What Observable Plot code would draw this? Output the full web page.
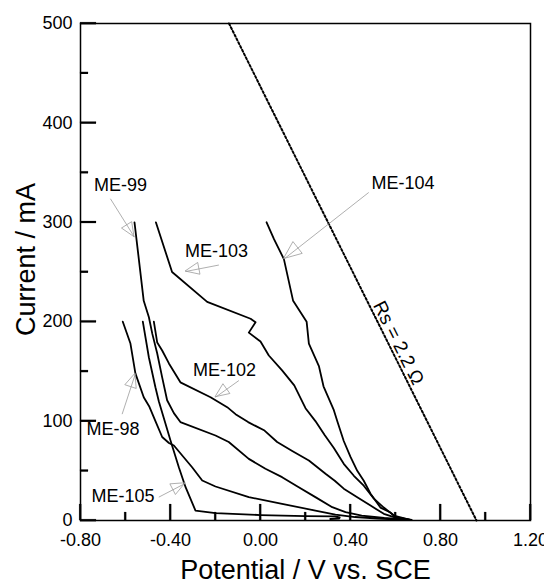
<!DOCTYPE html>
<html>
<head>
<meta charset="utf-8">
<script src="https://cdn.jsdelivr.net/npm/d3@7"></script>
<script src="https://cdn.jsdelivr.net/npm/@observablehq/plot@0.6"></script>
<style>
  html, body { margin: 0; padding: 0; background: white; }
  #chart { width: 544px; height: 583px; }
</style>
</head>
<body>
<div id="chart"></div>
<script>
// ---- Data ----
const me104V = [0.027, 0.06, 0.104, 0.145, 0.205, 0.215, 0.26, 0.28, 0.326, 0.341, 0.37, 0.40, 0.43, 0.459, 0.489, 0.533, 0.578, 0.60, 0.672];
const me104I = [300, 283, 263, 221, 200, 178, 155, 135, 111, 100, 80, 64, 50, 40, 27, 13, 8, 3.5, 0.5];

const me103V = [-0.465, -0.393, -0.237, -0.044, -0.022, -0.052, 0.0, 0.037, 0.096, 0.15, 0.2, 0.244, 0.285, 0.326, 0.37, 0.415, 0.459, 0.504, 0.548, 0.593, 0.665];
const me103I = [300, 250, 220, 203, 199.5, 189, 180, 166, 151, 136, 113, 100, 86, 73, 57, 45, 35, 22, 13, 5, 0.6];

const me102V = [-0.474, -0.459, -0.437, -0.407, -0.356, -0.222, -0.148, -0.111, -0.055, 0.018, 0.074, 0.141, 0.215, 0.289, 0.33, 0.37, 0.43, 0.489, 0.548, 0.593, 0.665];
const me102I = [200, 179, 171, 158, 139, 124, 114, 107, 99, 90.5, 79, 70, 60.4, 47, 40, 32, 23.5, 15, 6.7, 3.3, 0.6];

const me99V = [-0.56, -0.519, -0.496, -0.481, -0.459, -0.437, -0.415, -0.385, -0.356, -0.2, -0.141, -0.052, 0.022, 0.096, 0.17, 0.244, 0.319, 0.378, 0.45, 0.55, 0.66];
const me99I = [300, 221, 204.5, 188, 168, 144, 121, 108, 99, 85.5, 79, 62, 52, 43.6, 33.5, 23.5, 13.4, 8.4, 5, 2.5, 0.5];

const me98V = [-0.612, -0.578, -0.556, -0.519, -0.495, -0.467, -0.437, -0.407, -0.385, -0.304, -0.259, -0.2, -0.052, 0.096, 0.244, 0.333, 0.42, 0.52, 0.62, 0.66];
const me98I = [200, 178, 148, 124, 115, 100, 84, 78, 75.5, 53.6, 40.2, 34.2, 23.5, 16.8, 10, 6, 3.5, 2, 1, 0.4];

const me105V = [-0.523, -0.496, -0.467, -0.452, -0.4, -0.363, -0.333, -0.289, -0.2, 0.0, 0.2, 0.33, 0.352, 0.35, 0.31];
const me105I = [200, 164, 134, 120, 80.5, 53.6, 33.5, 10, 7.5, 5.5, 4.5, 4.2, 3.2, 2, 1.5];

// Rs = 2.2 ohm line (end points)
const rsV = [-0.14, 0.96];
const rsI = [500, 0];

// Annotation labels and arrows
const labelText = ["ME-99", "ME-103", "ME-104", "ME-102", "ME-98", "ME-105"];
const labelV = [-0.622, -0.196, 0.633, -0.16, -0.656, -0.611];
const labelI = [337, 271, 339.5, 151, 92, 24.6];
const arrowTailV = [-0.667, -0.185, 0.481, -0.096, -0.615, -0.452];
const arrowTailI = [323.7, 257, 330, 140.8, 107, 23.5];
const arrowTipV = [-0.56, -0.333, 0.104, -0.2, -0.556, -0.333];
const arrowTipI = [285, 250.5, 263, 124, 147.6, 37.5];

// Axis ticks
const xMajor = [-0.8, -0.4, 0, 0.4, 0.8, 1.2];
const xMinor = [-0.6, -0.2, 0.2, 0.6, 1.0];
const yMajor = [0, 100, 200, 300, 400, 500];
const yMinor = [50, 150, 250, 350, 450];

const rsLabel = "Rs = 2.2 \u03A9";
const rsLabelV = [0.613];
const rsLabelI = [178.6];

// ---- Build tables ----
const curves = [
  {name: "ME-104", V: me104V, I: me104I},
  {name: "ME-103", V: me103V, I: me103I},
  {name: "ME-102", V: me102V, I: me102I},
  {name: "ME-99", V: me99V, I: me99I},
  {name: "ME-98", V: me98V, I: me98I},
  {name: "ME-105", V: me105V, I: me105I}
];
const rows = curves.flatMap(c => c.V.map((v, i) => ({series: c.name, V: v, I: c.I[i]})));
const rsRows = rsV.map((v, i) => ({V: v, I: rsI[i]}));
const labels = labelText.map((t, i) => ({text: t, V: labelV[i], I: labelI[i]}));
const arrows = labelText.map((t, i) => ({x1: arrowTailV[i], y1: arrowTailI[i], x2: arrowTipV[i], y2: arrowTipI[i], big: t === "ME-104"}));

const xTickRows = [...xMajor.map(v => ({v, len: 16})), ...xMinor.map(v => ({v, len: 8}))];
const yTickRows = [...yMajor.map(v => ({v, len: 16})), ...yMinor.map(v => ({v, len: 8}))];

const fmtX = d => d.toFixed(2);
const font = "'Liberation Sans', Arial, sans-serif";

// Inward ticks positioned with the plot's scales
function tickMarks(index, scales) {
  const g = d3.create("svg:g");
  const x = scales.x, y = scales.y;
  const xLeft = x(xMajor[0]), yBottom = y(yMajor[0]);
  const hw = 0.8;
  for (const t of xTickRows) {
    const cx = x(t.v);
    g.append("path")
      .attr("d", `M${cx - hw},${yBottom}L${cx + hw},${yBottom}L${cx + hw},${yBottom - t.len}L${cx - hw},${yBottom - t.len}Z`)
      .attr("fill", "black").attr("stroke", "black").attr("stroke-width", 0.2);
  }
  for (const t of yTickRows) {
    const cy = y(t.v);
    g.append("path")
      .attr("d", `M${xLeft},${cy - hw}L${xLeft + t.len},${cy - hw}L${xLeft + t.len},${cy + hw}L${xLeft},${cy + hw}Z`)
      .attr("fill", "black").attr("stroke", "black").attr("stroke-width", 0.2);
  }
  return g.node();
}

// Hollow triangular arrow heads drawn with the plot's scales
function arrowHeads(index, scales) {
  const g = d3.create("svg:g");
  for (const d of arrows) {
    const x1 = scales.x(d.x1), y1 = scales.y(d.y1), x2 = scales.x(d.x2), y2 = scales.y(d.y2);
    const a = Math.atan2(y2 - y1, x2 - x1);
    const L = d.big ? 18 : 14, Wd = d.big ? 7.5 : 6;
    const bx = x2 - L * Math.cos(a), by = y2 - L * Math.sin(a);
    const px = -Math.sin(a) * Wd, py = Math.cos(a) * Wd;
    g.append("path")
      .attr("d", `M${x2},${y2}L${bx + px},${by + py}L${bx - px},${by - py}Z`)
      .attr("fill", "none")
      .attr("stroke", "#9a9a9a")
      .attr("stroke-width", 0.8);
  }
  return g.node();
}

const chart = Plot.plot({
  width: 544,
  height: 583,
  marginLeft: 80,
  marginRight: 14,
  marginTop: 23,
  marginBottom: 63,
  x: {domain: [-0.8, 1.2], axis: null},
  y: {domain: [0, 500], axis: null},
  style: {fontFamily: font, background: "white", color: "black", overflow: "visible"},
  marks: [
    // Plot's own axis marks: inward ticks (negative tick size), no text
    Plot.axisX(xMajor, {anchor: "bottom", tickSize: -16, tickFormat: () => "", label: null, stroke: "black", strokeWidth: 1.6}),
    Plot.axisX(xMinor, {anchor: "bottom", tickSize: -8, tickFormat: () => "", label: null, stroke: "black", strokeWidth: 1.6}),
    Plot.axisY(yMajor, {anchor: "left", tickSize: -16, tickFormat: () => "", label: null, stroke: "black", strokeWidth: 1.6}),
    Plot.axisY(yMinor, {anchor: "left", tickSize: -8, tickFormat: () => "", label: null, stroke: "black", strokeWidth: 1.6}),
    // tick labels
    Plot.text(xMajor, {x: d => d, frameAnchor: "bottom", lineAnchor: "top", dy: 13, text: fmtX, fontSize: 18, fill: "black"}),
    Plot.text(yMajor, {y: d => d, frameAnchor: "left", textAnchor: "end", lineAnchor: "middle", dx: -8, text: d => String(d), fontSize: 18, fill: "black"}),
    // axis titles
    Plot.text(["Potential / V vs. SCE"], {frameAnchor: "bottom", textAnchor: "middle", lineAnchor: "middle", dy: 49.5, text: d => d, fontSize: 27, fill: "black"}),
    Plot.text(["Current / mA"], {frameAnchor: "left", textAnchor: "middle", lineAnchor: "middle", rotate: -90, dx: -54.6, dy: -12.5, text: d => d, fontSize: 27, fill: "black"}),
    // Rs line
    Plot.line(rsRows, {x: "V", y: "I", stroke: "black", strokeWidth: 2, strokeDasharray: "2,2.2"}),
    Plot.text(rsLabelV, {x: d => d, y: (d, i) => rsLabelI[i], text: () => rsLabel, rotate: 63.5, fontSize: 19, fill: "black"}),
    // curves
    Plot.line(rows, {x: "V", y: "I", z: "series", stroke: "black", strokeWidth: 1.8, strokeLinejoin: "round"}),
    // annotation arrows
    Plot.link(arrows, {x1: "x1", y1: "y1", x2: "x2", y2: "y2", stroke: "#9a9a9a", strokeWidth: 0.8}),
    arrowHeads,
    Plot.text(labels, {x: "V", y: "I", text: "text", fontSize: 18, fill: "black"}),
    Plot.frame({stroke: "black", strokeWidth: 1.5}),
    tickMarks
  ]
});
document.getElementById("chart").appendChild(chart);
</script>
</body>
</html>
